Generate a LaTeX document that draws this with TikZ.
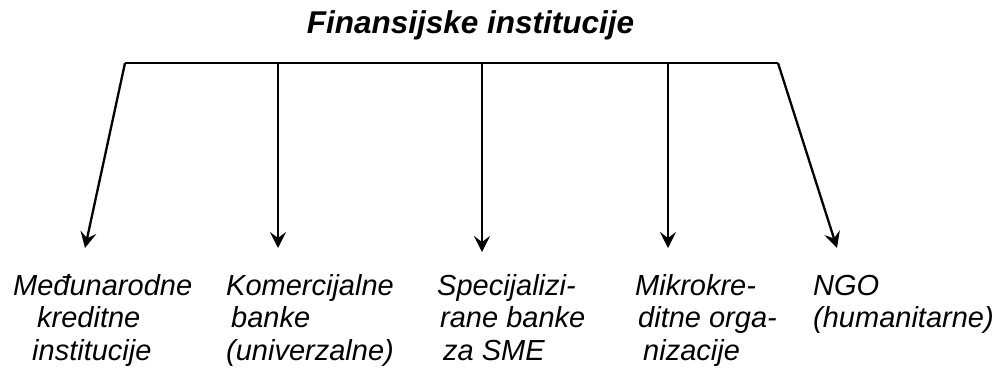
\documentclass[tikz,border=0pt]{standalone}
\usepackage{fontspec}
\setmainfont{Liberation Sans}
\usetikzlibrary{arrows.meta}
\tikzset{
    bar/.style={line width=2.3pt, line join=miter},
    branch/.style={line width=2.3pt, -{Stealth[length=16pt,width=16pt,inset=6pt]}},
    label/.style={anchor=base west, inner sep=0pt, align=left,
        font=\fontsize{29}{32.5}\selectfont\itshape}
}

\begin{document}
\begin{tikzpicture}[x=1pt, y=-1pt]
    \useasboundingbox (0,0) rectangle (995,367);
    \node[anchor=base, inner sep=0pt, font=\fontsize{31.5}{36}\selectfont\bfseries\itshape]
        (title) at (470.5,33) {Finansijske institucije};
    % top bar
    \coordinate (barL) at (125,63);
    \coordinate (barR) at (778,63);
    \foreach \name/\x in {b/278, c/482, d/668}
        \coordinate (bar\name) at (\x,63);
    \draw[bar] (barL) -- (barR);
    % arrow tips
    \coordinate (tipA) at (85,248);
    \coordinate (tipB) at (278,248);
    \coordinate (tipC) at (482,252);
    \coordinate (tipD) at (668,248);
    \coordinate (tipE) at (837,248);
    \draw[branch] (barL) -- (tipA);
    \draw[branch] (barb) -- (tipB);
    \draw[branch] (barc) -- (tipC);
    \draw[branch] (bard) -- (tipD);
    \draw[branch] (barR) -- (tipE);
    % labels (anchored on the baseline of their last line)
    \node[label] (medjunarodne) at (13,360)
        {Me\dj unarodne\\\hspace*{24pt}kreditne\\\hspace*{19pt}institucije};
    \node[label] (komercijalne) at (226,360)
        {Komercijalne\\\hspace*{5pt}banke\\(univerzalne)};
    \node[label] (specijalizirane) at (437,360)
        {Specijalizi-\\\hspace*{3pt}rane banke\\\hspace*{6pt}za SME};
    \node[label] (mikrokreditne) at (635,360)
        {Mikrokre-\\\hspace*{3pt}ditne orga-\\\hspace*{8pt}nizacije};
    \node[label] (ngo) at (813,327.5)
        {NGO\\(humanitarne)};
\end{tikzpicture}
\end{document}
